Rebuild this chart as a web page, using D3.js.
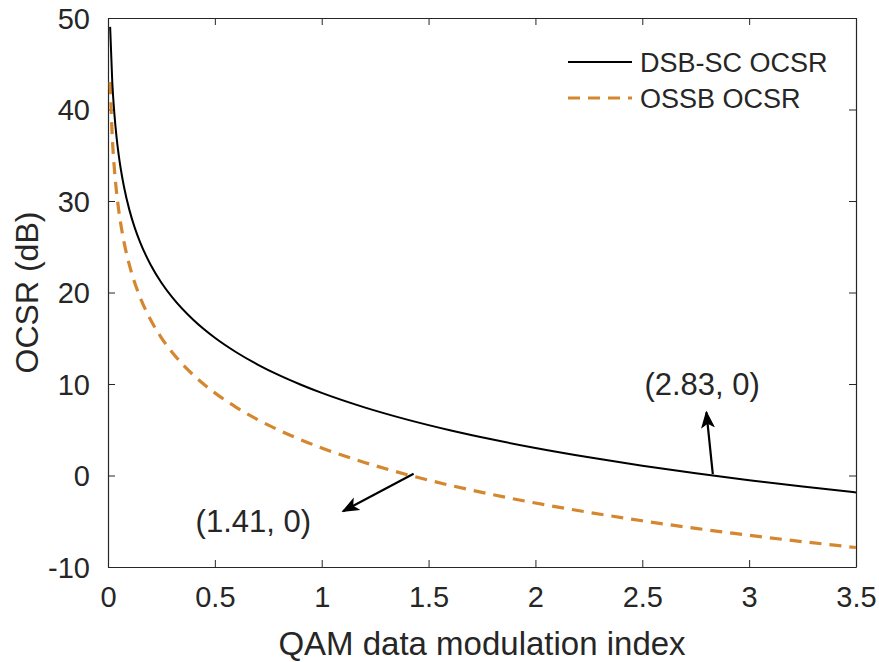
<!DOCTYPE html>
<html>
<head>
<meta charset="utf-8">
<script src="https://cdn.jsdelivr.net/npm/d3@7"></script>
<style>
  body { margin: 0; background: #fff; }
  text { font-family: "Liberation Sans", Arial, Helvetica, sans-serif; fill: #262626; }
</style>
</head>
<body>
<svg id="chart" width="879" height="662"></svg>
<script>
// ---- data ----
const modIndex = [0.01, 0.02, 0.03, 0.04, 0.05, 0.06, 0.075, 0.1, 0.125, 0.15, 0.2, 0.25, 0.3, 0.4, 0.5, 0.6, 0.7, 0.8, 0.9, 1.0, 1.2, 1.4, 1.6, 1.8, 2.0, 2.25, 2.5, 2.75, 3.0, 3.25, 3.5];
const dsbOcsr = [49.03, 43.01, 39.49, 36.99, 35.05, 33.47, 31.53, 29.03, 27.09, 25.51, 23.01, 21.07, 19.49, 16.99, 15.05, 13.47, 12.13, 10.97, 9.95, 9.03, 7.45, 6.11, 4.95, 3.93, 3.01, 1.99, 1.07, 0.24, -0.51, -1.21, -1.85];
const ossbOcsr = [43.01, 36.99, 33.47, 30.97, 29.03, 27.45, 25.51, 23.01, 21.07, 19.49, 16.99, 15.05, 13.47, 10.97, 9.03, 7.45, 6.11, 4.95, 3.93, 3.01, 1.43, 0.09, -1.07, -2.09, -3.01, -4.03, -4.95, -5.78, -6.53, -7.23, -7.87];
const seriesNames = ["DSB-SC OCSR", "OSSB OCSR"];
const xTicks = [0, 0.5, 1, 1.5, 2, 2.5, 3, 3.5];
const xTickLabels = ["0", "0.5", "1", "1.5", "2", "2.5", "3", "3.5"];
const yTicks = [-10, 0, 10, 20, 30, 40, 50];
const yTickLabels = ["-10", "0", "10", "20", "30", "40", "50"];
const xTitle = "QAM data modulation index";
const yTitle = "OCSR (dB)";
// annotations: label, arrow start (data), arrow tip (data), label anchor (data)
const annLabels = ["(2.83, 0)", "(1.41, 0)"];
const annFrom = [[2.83, 0.15], [1.43, 0.2]];
const annTo = [[2.80, 6.9], [1.10, -3.9]];
const annText = [[2.78, 8.85], [0.68, -6.2]];

// ---- layout ----
const svg = d3.select("#chart");
const mLeft = 108, mRight = 856, mTop = 18, mBottom = 567;
const x = d3.scaleLinear().domain([0, 3.5]).range([mLeft, mRight]);
const y = d3.scaleLinear().domain([-10, 50]).range([mBottom, mTop]);
const axisColor = "#262626";

const defs = svg.append("defs");
defs.append("clipPath").attr("id", "clip")
  .append("rect").attr("x", mLeft).attr("y", mTop).attr("width", mRight - mLeft).attr("height", mBottom - mTop);

defs.append("marker")
  .attr("id", "arrow").attr("viewBox", "0 0 10 10").attr("refX", 9).attr("refY", 5)
  .attr("markerWidth", 8).attr("markerHeight", 8).attr("markerUnits", "strokeWidth")
  .attr("orient", "auto")
  .append("path").attr("d", "M0,1 L10,5 L0,9 L2.5,5 Z").attr("fill", "#000");

// axes (inward ticks, box)
const tickLen = 7;
const gx = svg.append("g").attr("transform", `translate(0,${mBottom})`)
  .call(d3.axisBottom(x).tickValues(xTicks).tickFormat((d, i) => xTickLabels[i]).tickSizeInner(-tickLen).tickSizeOuter(0).tickPadding(19));
const gxTop = svg.append("g").attr("transform", `translate(0,${mTop})`)
  .call(d3.axisTop(x).tickValues(xTicks).tickFormat("").tickSizeInner(-tickLen).tickSizeOuter(0));
const gy = svg.append("g").attr("transform", `translate(${mLeft},0)`)
  .call(d3.axisLeft(y).tickValues(yTicks).tickFormat((d, i) => yTickLabels[i]).tickSizeInner(-tickLen).tickSizeOuter(0).tickPadding(18));
const gyR = svg.append("g").attr("transform", `translate(${mRight},0)`)
  .call(d3.axisRight(y).tickValues(yTicks).tickFormat("").tickSizeInner(-tickLen).tickSizeOuter(0));

[gx, gxTop, gy, gyR].forEach(g => {
  g.selectAll("path.domain").attr("stroke", axisColor).attr("stroke-width", 1.2);
  g.selectAll(".tick line").attr("stroke", axisColor).attr("stroke-width", 1);
  g.selectAll(".tick text").style("font-size", "29px").attr("fill", axisColor);
});
gx.selectAll(".tick text").attr("dy", "0.71em");
gy.selectAll(".tick text").attr("dy", "0.36em");

// titles
svg.append("text").attr("x", (mLeft + mRight) / 2).attr("y", 655)
  .attr("text-anchor", "middle").style("font-size", "33px").text(xTitle);
svg.append("text").attr("transform", `translate(38,${(mTop + mBottom) / 2}) rotate(-90)`)
  .attr("text-anchor", "middle").style("font-size", "32px").text(yTitle);

// lines
const line = d3.line().x(d => x(d[0])).y(d => y(d[1])).curve(d3.curveMonotoneX);
const plot = svg.append("g").attr("clip-path", "url(#clip)");
plot.append("path").datum(modIndex.map((m, i) => [m, ossbOcsr[i]]))
  .attr("d", line).attr("fill", "none").attr("stroke", "#D4872E").attr("stroke-width", 3.2)
  .attr("stroke-dasharray", "12,8");
plot.append("path").datum(modIndex.map((m, i) => [m, dsbOcsr[i]]))
  .attr("d", line).attr("fill", "none").attr("stroke", "#000").attr("stroke-width", 2);

// annotations
annLabels.forEach((lab, i) => {
  svg.append("line")
    .attr("x1", x(annFrom[i][0])).attr("y1", y(annFrom[i][1]))
    .attr("x2", x(annTo[i][0])).attr("y2", y(annTo[i][1]))
    .attr("stroke", "#000").attr("stroke-width", 2.2).attr("marker-end", "url(#arrow)");
  svg.append("text").attr("x", x(annText[i][0])).attr("y", y(annText[i][1]))
    .attr("text-anchor", "middle").style("font-size", "31px").attr("fill", "#262626").text(lab);
});

// legend
const legColors = ["#000", "#D4872E"];
const legDash = [null, "12,8"];
const legWidth = [2, 3.2];
const legY = [62, 98];
seriesNames.forEach((name, i) => {
  svg.append("line").attr("x1", 568).attr("x2", 632).attr("y1", legY[i]).attr("y2", legY[i])
    .attr("stroke", legColors[i]).attr("stroke-width", legWidth[i])
    .attr("stroke-dasharray", legDash[i]);
  svg.append("text").attr("x", 640).attr("y", legY[i]).attr("dy", "0.36em")
    .style("font-size", "27px").text(name);
});
</script>
</body>
</html>
